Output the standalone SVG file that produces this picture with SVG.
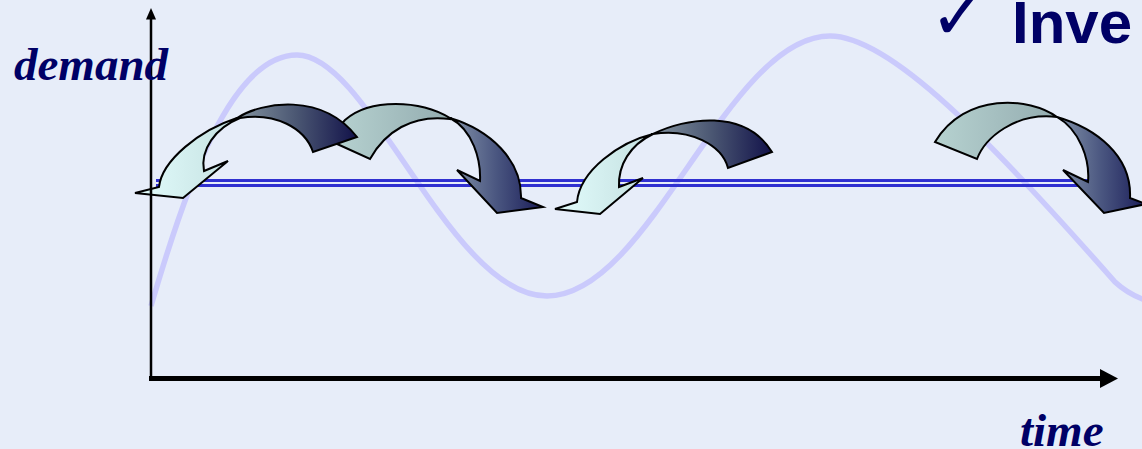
<svg xmlns="http://www.w3.org/2000/svg" width="1142" height="449" viewBox="0 0 1142 449">
  <defs>
    <style>
      .arrow { stroke: #000; stroke-width: 2; stroke-linejoin: miter; }
      .lbl { font-family: "Liberation Serif", "Times New Roman", serif; font-weight: bold; font-style: italic; font-size: 47px; fill: #000066; }
      .title { font-family: "Liberation Sans", Arial, sans-serif; font-weight: bold; font-size: 60px; fill: #000066; }
      .axis { stroke: #000; fill: none; }
      .supply { stroke: #3030d0; stroke-width: 2.8; }
    </style>
    <linearGradient id="gLightFront" gradientUnits="objectBoundingBox" x1="0" y1="0" x2="1" y2="0">
      <stop offset="0" stop-color="#e2fcfc"/>
      <stop offset="1" stop-color="#c4e0e0"/>
    </linearGradient>
    <linearGradient id="gDarkBack" gradientUnits="objectBoundingBox" x1="0" y1="0" x2="1" y2="0">
      <stop offset="0" stop-color="#8494a0"/>
      <stop offset="0.5" stop-color="#4a5672"/>
      <stop offset="1" stop-color="#12124a"/>
    </linearGradient>
    <linearGradient id="gGreyBack" gradientUnits="objectBoundingBox" x1="0" y1="0" x2="1" y2="0">
      <stop offset="0" stop-color="#b6d2d0"/>
      <stop offset="1" stop-color="#94acb0"/>
    </linearGradient>
    <linearGradient id="gDarkFront" gradientUnits="objectBoundingBox" x1="0" y1="0" x2="1" y2="0">
      <stop offset="0" stop-color="#8494aa"/>
      <stop offset="0.5" stop-color="#4a5680"/>
      <stop offset="1" stop-color="#1a1c58"/>
    </linearGradient>
  </defs>

  <rect x="0" y="0" width="1142" height="449" fill="#e7edf9"/>

  <g id="wave">
    <path d="M151,306 C185,190 230,55 297,55 C370,55 450,296 547,296 C650,296 727,36 830,36 C890,36 990,140 1115,282 Q1128,294 1145,300" fill="none" stroke="#cacafc" stroke-width="5.5"/>
  </g>

  <g id="supply-line">
    <line class="supply" x1="156" y1="180.5" x2="1090" y2="180.5"/>
    <line class="supply" x1="156" y1="185.5" x2="1090" y2="185.5"/>
  </g>

  <g id="connectors">
    <g id="arrow-b">
      <path class="arrow" fill="url(#gGreyBack)" d="M450,118 C420,100 370,98 345,120 C338,127 335,135 335,143 L370,159 C385,132 412,114 450,119 Z"/>
      <path class="arrow" fill="url(#gDarkFront)" d="M450,118 C490,130 522,160 521,198 L543,207 L497,213 L457,170 L480,181 C481,160 473,130 450,118 Z"/>
    </g>
    <g id="arrow-a">
      <path class="arrow" fill="url(#gDarkBack)" d="M237,118 C262,102 322,92 357,137 L313,152 C305,128 275,112 240,118 Z"/>
      <path class="arrow" fill="url(#gLightFront)" d="M237,118 C200,130 162,160 159,187 L135,193 L183,198 L228,161 L204,171 C200,150 215,128 240,118 Z"/>
    </g>
    <g id="arrow-c">
      <path class="arrow" fill="url(#gDarkBack)" d="M653,134 C685,118 745,108 772,152 L728,168 C722,145 690,128 653,134 Z"/>
      <path class="arrow" fill="url(#gLightFront)" d="M653,134 C620,142 580,170 577,202 L555,209 L600,214 L643,178 L619,187 C618,165 630,145 653,134 Z"/>
    </g>
    <g id="arrow-e">
      <path class="arrow" fill="url(#gGreyBack)" d="M1057,117 C1030,97 965,92 935,142 L977,159 C985,138 1015,112 1057,117 Z"/>
      <path class="arrow" fill="url(#gDarkFront)" d="M1057,117 C1095,128 1132,155 1130,198 L1146,204 L1104,213 L1063,170 L1088,182 C1090,160 1080,130 1057,117 Z"/>
    </g>
  </g>

  <g id="axes">
    <line class="axis" x1="151" y1="17" x2="151" y2="380" stroke-width="2.5"/>
    <polygon points="151,8 146,19.5 156,19.5" fill="#000"/>
    <line class="axis" x1="149" y1="378.5" x2="1102" y2="378.5" stroke-width="5"/>
    <polygon points="1100,369 1118,378.5 1100,388" fill="#000"/>
  </g>

  <g id="labels">
    <text class="lbl" x="14" y="80">demand</text>
    <text class="lbl" x="1020" y="446">time</text>
    <text x="930" y="39" font-family="DejaVu Sans, sans-serif" font-weight="bold" font-size="68" fill="#000066">✓</text>
    <text class="title" x="1012" y="43">Inve</text>
  </g>
</svg>
